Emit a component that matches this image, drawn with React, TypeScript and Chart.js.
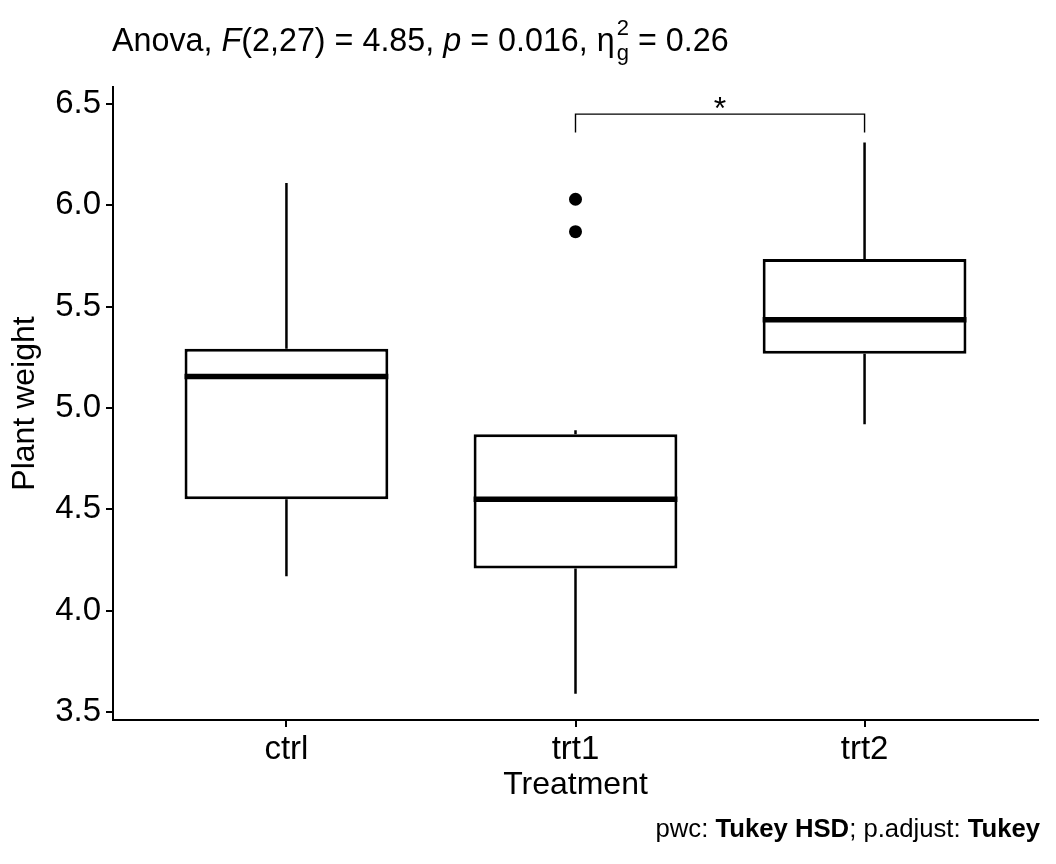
import { useEffect, useRef } from 'react';
import { Chart, registerables } from 'chart.js';

Chart.register(...registerables);

const FONT = '"Liberation Sans", Arial, Helvetica, sans-serif';

// Data
const categories = ['ctrl', 'trt1', 'trt2'];
const whiskerLow = [4.17, 3.59, 4.92];
const q1 = [4.55, 4.2075, 5.2675];
const medians = [5.155, 4.55, 5.435];
const q3 = [5.2925, 4.87, 5.735];
const whiskerHigh = [6.11, 4.89, 6.31];
const outlierGroups = ['trt1', 'trt1'];
const outlierValues = [6.03, 5.87];
const yTicks = [3.5, 4.0, 4.5, 5.0, 5.5, 6.0, 6.5];
const bracketGroups = ['trt1', 'trt2'];
const bracketLabel = '*';
const bracketLevel = 6.45;
const bracketTipLevel = 6.36;

const Y_MIN = 3.4605;
const Y_MAX = 6.584;

export default function App() {
  const ref = useRef<HTMLCanvasElement>(null);

  useEffect(() => {
    document.body.style.margin = '0';
    const canvas = ref.current!;

    const boxPlugin = {
      id: 'boxParts',
      beforeDatasetsDraw(chart: any) {
        const { ctx } = chart;
        const y = chart.scales.y;
        const meta = chart.getDatasetMeta(0);
        ctx.save();
        ctx.strokeStyle = '#000';
        ctx.lineWidth = 2.5;
        meta.data.forEach((bar: any, i: number) => {
          const { x } = bar.getProps(['x'], true);
          ctx.beginPath();
          ctx.moveTo(x, y.getPixelForValue(whiskerLow[i]));
          ctx.lineTo(x, y.getPixelForValue(q1[i]));
          ctx.moveTo(x, y.getPixelForValue(q3[i]));
          ctx.lineTo(x, y.getPixelForValue(whiskerHigh[i]));
          ctx.stroke();
        });
        ctx.restore();
      },
      afterDatasetsDraw(chart: any) {
        const { ctx } = chart;
        const y = chart.scales.y;
        const xs = chart.scales.x;
        const meta = chart.getDatasetMeta(0);
        ctx.save();
        ctx.strokeStyle = '#000';
        ctx.lineWidth = 5.5;
        meta.data.forEach((bar: any, i: number) => {
          const { x, width } = bar.getProps(['x', 'width'], true);
          const py = y.getPixelForValue(medians[i]);
          ctx.beginPath();
          ctx.moveTo(x - width / 2, py);
          ctx.lineTo(x + width / 2, py);
          ctx.stroke();
        });
        // significance bracket
        const x1 = xs.getPixelForValue(categories.indexOf(bracketGroups[0]) + 1);
        const x2 = xs.getPixelForValue(categories.indexOf(bracketGroups[1]) + 1);
        const yl = y.getPixelForValue(bracketLevel);
        const yt = y.getPixelForValue(bracketTipLevel);
        ctx.lineWidth = 1.4;
        ctx.beginPath();
        ctx.moveTo(x1, yt);
        ctx.lineTo(x1, yl);
        ctx.lineTo(x2, yl);
        ctx.lineTo(x2, yt);
        ctx.stroke();
        ctx.fillStyle = '#000';
        ctx.font = `32px ${FONT}`;
        ctx.textAlign = 'center';
        ctx.textBaseline = 'alphabetic';
        ctx.fillText(bracketLabel, (x1 + x2) / 2, yl + 5);
        ctx.restore();
      },
      afterDraw(chart: any) {
        const { ctx } = chart;
        ctx.save();
        ctx.fillStyle = '#000';
        ctx.textAlign = 'left';
        ctx.textBaseline = 'alphabetic';
        // Title
        let x = 112;
        const base = 51;
        const fs = 32.3;
        const seg = (t: string, style = '', size = fs, dy = 0, advance = true) => {
          ctx.font = `${style} ${size}px ${FONT}`;
          ctx.fillText(t, x, base + dy);
          const w = ctx.measureText(t).width;
          if (advance) x += w;
          return w;
        };
        seg('Anova, ');
        seg('F', 'italic');
        seg('(2,27) = 4.85, ');
        seg('p', 'italic');
        seg(' = 0.016, ');
        seg('η');
        x += 2;
        const w1 = seg('2', '', 22, -16, false);
        const w2 = seg('g', '', 22, 9, false);
        x += Math.max(w1, w2);
        seg(' = 0.26');

        // Caption
        const cap: [string, string][] = [
          ['pwc: ', ''],
          ['Tukey HSD', 'bold'],
          ['; p.adjust: ', ''],
          ['Tukey', 'bold'],
        ];
        const cs = 25.7;
        let total = 0;
        cap.forEach(([t, s]) => {
          ctx.font = `${s} ${cs}px ${FONT}`;
          total += ctx.measureText(t).width;
        });
        let cx = 1040 - total;
        cap.forEach(([t, s]) => {
          ctx.font = `${s} ${cs}px ${FONT}`;
          ctx.fillText(t, cx, 837);
          cx += ctx.measureText(t).width;
        });
        ctx.restore();
      },
    };

    const chart = new Chart(canvas, {
      type: 'bar',
      data: {
        datasets: [
          {
            type: 'bar',
            data: categories.map((_, i) => ({ x: i + 1, y: [q1[i], q3[i]] })) as any,
            backgroundColor: '#ffffff',
            borderColor: '#000000',
            borderWidth: 3,
            borderSkipped: false,
            categoryPercentage: 1,
            barPercentage: 0.705,
            grouped: false,
          } as any,
          {
            type: 'scatter',
            data: outlierValues.map((v, i) => ({ x: categories.indexOf(outlierGroups[i]) + 1, y: v })),
            pointRadius: 6.5,
            pointBackgroundColor: '#000',
            pointBorderWidth: 0,
            backgroundColor: '#000',
            borderColor: '#000',
            showLine: false,
          } as any,
        ],
      },
      options: {
        responsive: false,
        animation: false,
        events: [],
        layout: { padding: { top: 87, right: 18, left: 0, bottom: 0 } },
        plugins: {
          legend: { display: false },
          tooltip: { enabled: false },
          title: { display: false },
        },
        scales: {
          x: {
            type: 'linear',
            min: 0.4,
            max: 3.6,
            offset: false,
            afterBuildTicks: (s: any) => {
              s.ticks = categories.map((_, i) => ({ value: i + 1 }));
            },
            afterFit: (s: any) => {
              s.height = 144;
            },
            ticks: {
              callback: (v: any) => categories[Number(v) - 1] ?? '',
              font: { size: 33, family: FONT },
              color: '#000',
              padding: 3,
              autoSkip: false,
              maxRotation: 0,
            },
            grid: {
              offset: false,
              drawOnChartArea: false,
              drawTicks: true,
              tickLength: 7,
              color: '#000',
              lineWidth: 2,
            },
            border: { display: true, color: '#000', width: 2 },
            title: {
              display: true,
              text: 'Treatment',
              color: '#000',
              font: { size: 32, family: FONT },
              padding: { top: 0, bottom: 60 },
            },
          },
          y: {
            type: 'linear',
            min: Y_MIN,
            max: Y_MAX,
            afterBuildTicks: (s: any) => {
              s.ticks = yTicks.map((v) => ({ value: v }));
            },
            afterFit: (s: any) => {
              s.width = 113;
            },
            ticks: {
              callback: (v: any) => Number(v).toFixed(1),
              font: { size: 33, family: FONT },
              color: '#000',
              padding: 5,
            },
            grid: {
              drawOnChartArea: false,
              drawTicks: true,
              tickLength: 7,
              color: '#000',
              lineWidth: 2,
            },
            border: { display: true, color: '#000', width: 2 },
            title: {
              display: true,
              text: 'Plant weight',
              color: '#000',
              font: { size: 32, family: FONT },
              padding: { top: 6, bottom: 0 },
            },
          },
        },
      } as any,
      plugins: [boxPlugin],
    });

    return () => chart.destroy();
  }, []);

  return (
    <div style={{ width: 1056, height: 864, background: '#fff' }}>
      <canvas ref={ref} width={1056} height={864} style={{ display: 'block' }} />
    </div>
  );
}
